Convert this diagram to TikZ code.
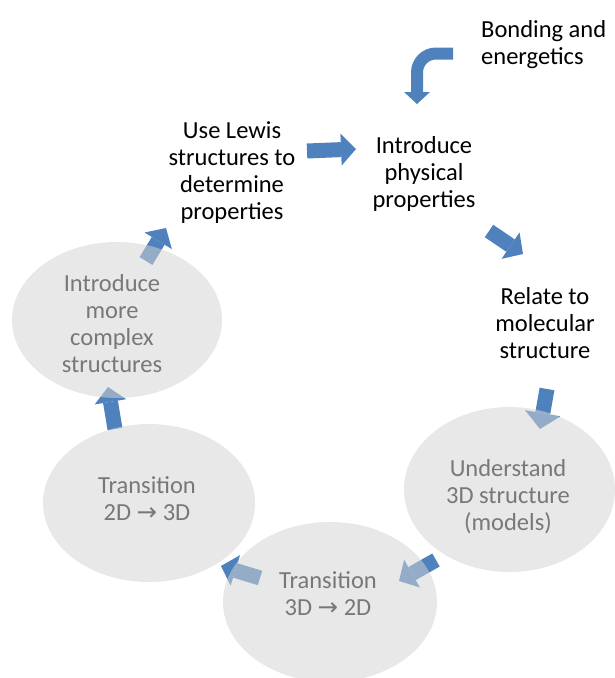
\documentclass[tikz,border=0pt]{standalone}
\usepackage{fontspec}
\setmainfont{Carlito}
\newfontfamily\symfont{DejaVu Sans}
\usetikzlibrary{shapes.geometric,arrows.meta}
\definecolor{arrowblue}{RGB}{79,129,189}
\definecolor{ellgray}{RGB}{211,211,211}
\definecolor{txtgray}{RGB}{120,120,120}
\begin{document}
\begin{tikzpicture}[x=1pt,y=-1pt,
  blk/.style={draw=arrowblue, line width=15pt, -{Triangle[width=32pt,length=15pt,line width=0pt]}},
  bigblk/.style={draw=arrowblue, line width=15pt, -{Triangle[width=36pt,length=16pt,line width=0pt]}},
  bentarrow/.style={draw=arrowblue, line width=12pt, -{Triangle[width=26pt,length=12pt,line width=0pt]}},
  bubble/.style={ellipse, fill=ellgray, fill opacity=0.53, draw=none, inner sep=0pt},
  lbl/.style={align=center, font=\fontsize{24.5}{27}\selectfont, inner sep=0pt},
  glbl/.style={lbl, text=txtgray}]
\useasboundingbox (0,0) rectangle (615,678);

% arrow end points
\coordinate (b0) at (453,53.5);
\coordinate (b1) at (436,53.5);
\coordinate (b2) at (417,104);
\coordinate (a2s) at (307,151);  \coordinate (a2e) at (356,149);
\coordinate (a3s) at (489,231);  \coordinate (a3e) at (523,254);
\coordinate (a4s) at (547,389);  \coordinate (a4e) at (540,429);
\coordinate (a5s) at (436,560);  \coordinate (a5e) at (399,581);
\coordinate (a6s) at (260,578);  \coordinate (a6e) at (221,566);
\coordinate (a7s) at (115,429);  \coordinate (a7e) at (108,387);
\coordinate (a8s) at (146,261);  \coordinate (a8e) at (166,228);

% arrows
\draw[bentarrow] (b0) -- (b1) arc[start angle=90, end angle=180, radius=19pt] -- (b2);
\draw[blk] (a2s) -- (a2e);
\draw[blk] (a3s) -- (a3e);
\draw[bigblk] (a4s) -- (a4e);
\draw[blk] (a5s) -- (a5e);
\draw[blk] (a6s) -- (a6e);
\draw[blk] (a7s) -- (a7e);
\draw[blk] (a8s) -- (a8e);

% ellipses
\node[bubble, minimum width=210pt, minimum height=156pt] (eA) at (117,320) {};
\node[bubble, minimum width=212pt, minimum height=158pt] (eB) at (149,503) {};
\node[bubble, minimum width=214pt, minimum height=160pt] (eC) at (330,602) {};
\node[bubble, minimum width=211pt, minimum height=165pt] (eD) at (509.5,489.5) {};

% labels
\node[lbl, align=left, anchor=west] (bond) at (481,45) {Bonding and\\energetics};
\node[lbl] (lewis) at (232,173) {Use Lewis\\structures to\\determine\\properties};
\node[lbl] (phys) at (424,173.5) {Introduce\\physical\\properties};
\node[lbl] (relate) at (545,323.5) {Relate to\\molecular\\structure};
\node[glbl] (tD) at (508,497) {Understand\\3D structure\\(models)};
\node[glbl] (tC) at (328,594) {Transition\\3D {\symfont →} 2D};
\node[glbl] (tB) at (147,499) {Transition\\2D {\symfont →} 3D};
\node[glbl] (tA) at (112,324) {Introduce\\more\\complex\\structures};
\end{tikzpicture}
\end{document}
